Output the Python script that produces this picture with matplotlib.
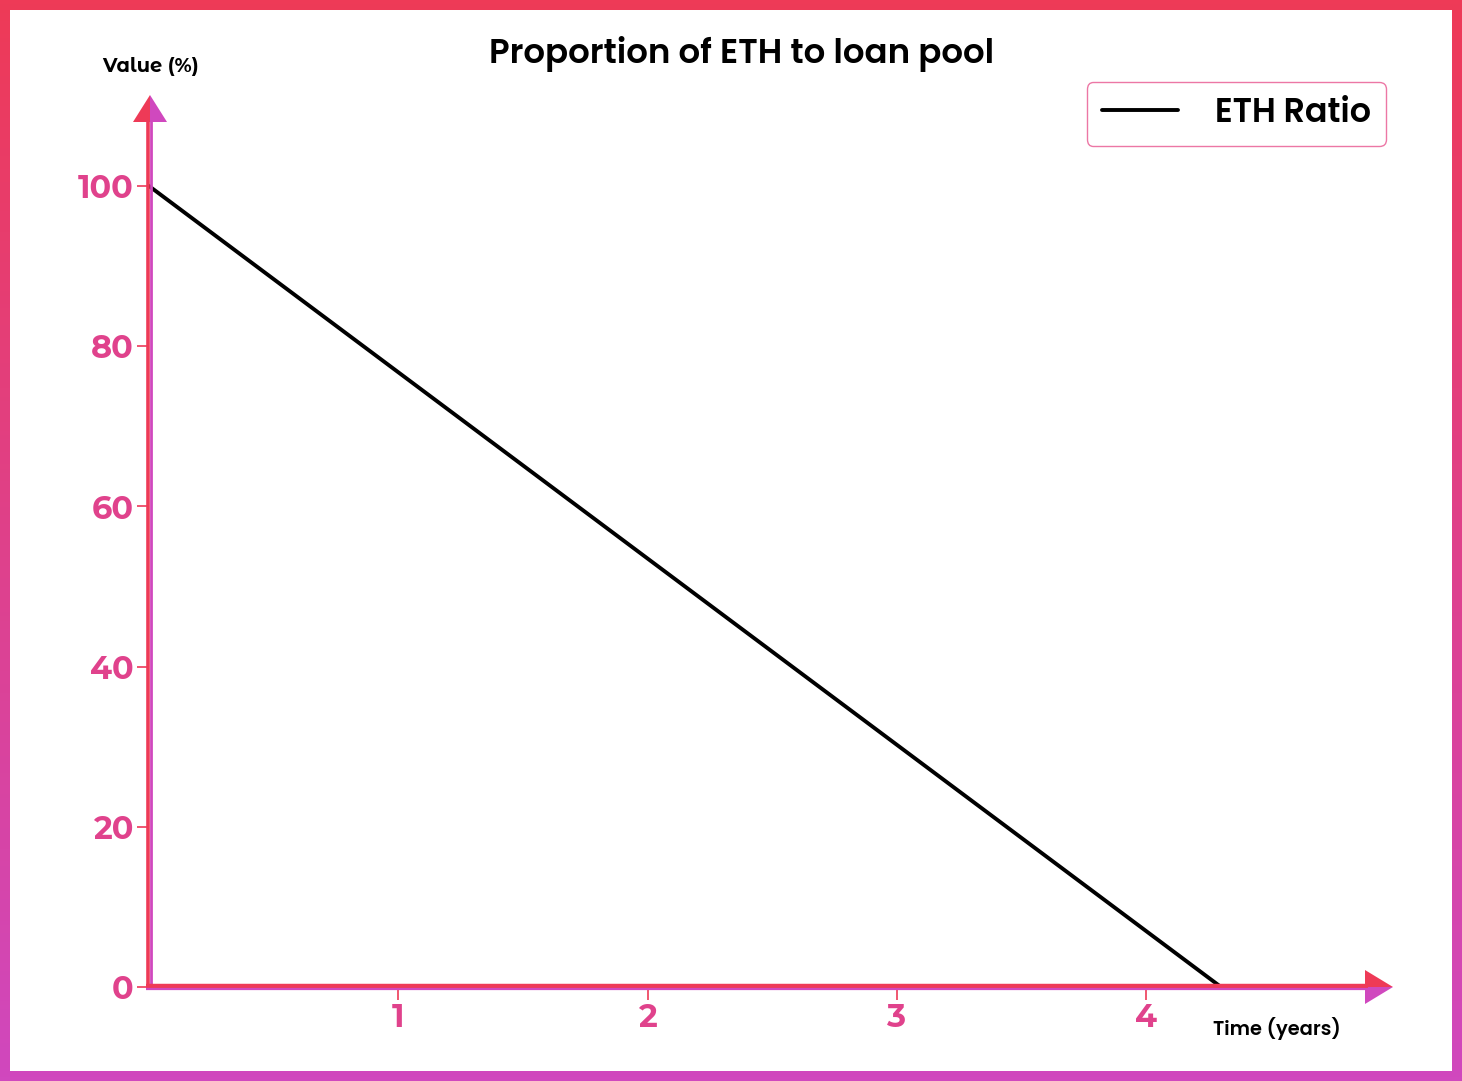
import matplotlib
matplotlib.use("Agg")
import matplotlib.pyplot as plt
import numpy as np
from matplotlib.patches import Polygon, Rectangle
from matplotlib.colors import LinearSegmentedColormap

# ---- data ----
time_years = [0.0, 4.3]
eth_ratio = [100.0, 0.0]
x_ticks = [1, 2, 3, 4]
y_ticks = [0, 20, 40, 60, 80, 100]
title = "Proportion of ETH to loan pool"
series_label = "ETH Ratio"
x_label = "Time (years)"
y_label = "Value (%)"

RED = "#EE3A57"
PURPLE = "#D048BE"
PINK = "#E0428C"
FONT_A = ["Poppins", "DejaVu Sans"]
FONT_B = ["Montserrat Alternates", "Poppins", "DejaVu Sans"]
plt.rcParams["font.family"] = FONT_A

W, H = 1462, 1081
fig = plt.figure(figsize=(W / 100, H / 100), dpi=100)

def fx(px):
    return px / W

def fy(py):
    return 1 - py / H

# gradient border
bg = fig.add_axes([0, 0, 1, 1], zorder=0)
bg.set_axis_off()
grad = np.linspace(0, 1, 256).reshape(-1, 1)
cmap = LinearSegmentedColormap.from_list("g", [RED, PURPLE])
bg.imshow(grad, aspect="auto", cmap=cmap, extent=[0, 1, 0, 1], origin="upper")
bg.add_patch(Rectangle((fx(10), fy(1071)), fx(W - 20), (1071 - 10) / H,
                       facecolor="white", edgecolor="none"))
bg.set_xlim(0, 1)
bg.set_ylim(0, 1)

# main axes
x0, y0 = 149, 987
px_per_year = 249.3
px_per_unit = 8.01
xmax, ymax = 5.0, 111.0
ax = fig.add_axes([fx(x0), fy(y0), xmax * px_per_year / W, ymax * px_per_unit / H], zorder=1)
ax.patch.set_alpha(0)
ax.set_xlim(0, xmax)
ax.set_ylim(0, ymax)
for s in ax.spines.values():
    s.set_visible(False)

ax.plot(time_years, eth_ratio, color="black", lw=2.8, solid_capstyle="round",
        label=series_label, zorder=3)

ax.set_xticks(x_ticks)
ax.set_yticks(y_ticks)
ax.tick_params(axis="both", colors=RED, length=9, width=1.2, labelcolor=PINK,
               labelsize=23, pad=2)
for t in ax.get_xticklabels() + ax.get_yticklabels():
    t.set_fontweight("bold")
    t.set_family(FONT_B)

# axis lines (two-tone) + arrowheads in pixel coords
ov = fig.add_axes([0, 0, 1, 1], zorder=2)
ov.set_axis_off()
ov.set_xlim(0, W)
ov.set_ylim(H, 0)
ov.patch.set_alpha(0)
# y axis
ov.plot([x0 - 1.5, x0 - 1.5], [y0 + 2, 118], color=RED, lw=2.6, solid_capstyle="butt")
ov.plot([x0 + 1.5, x0 + 1.5], [y0 + 2, 118], color=PURPLE, lw=2.0, solid_capstyle="butt")
ov.add_patch(Polygon([[150, 95], [133, 122], [150, 122]], closed=True, facecolor=RED, edgecolor="none"))
ov.add_patch(Polygon([[150, 95], [167, 122], [150, 122]], closed=True, facecolor=PURPLE, edgecolor="none"))
# x axis
ov.plot([x0 - 3, 1368], [y0 - 1, y0 - 1], color=RED, lw=3.2, solid_capstyle="butt")
ov.plot([x0 - 3, 1368], [y0 + 2.2, y0 + 2.2], color=PURPLE, lw=1.6, solid_capstyle="butt")
ov.add_patch(Polygon([[1393, 987], [1365, 970], [1365, 987]], closed=True, facecolor=RED, edgecolor="none"))
ov.add_patch(Polygon([[1393, 987], [1365, 1004], [1365, 987]], closed=True, facecolor=PURPLE, edgecolor="none"))

# texts
fig.text(fx(742), fy(54), title, ha="center", va="center", fontsize=24.5, fontweight="semibold", color="black")
fig.text(fx(150), fy(66), y_label, ha="center", va="center", fontsize=14, fontweight="bold",
         color="black", family=FONT_B)
fig.text(fx(1277), fy(1029), x_label, ha="center", va="center", fontsize=14, fontweight="semibold", color="black")

leg = ax.legend(loc="upper right", bbox_to_anchor=(fx(1386), fy(82)), bbox_transform=fig.transFigure,
                frameon=True, fancybox=True, fontsize=24, handlelength=2.3, handletextpad=1.1,
                borderpad=0.45, borderaxespad=0)
leg.get_frame().set_edgecolor("#E8558F")
leg.get_frame().set_linewidth(1.0)
for t in leg.get_texts():
    t.set_fontweight("semibold")

fig.savefig("out.png", dpi=100)
